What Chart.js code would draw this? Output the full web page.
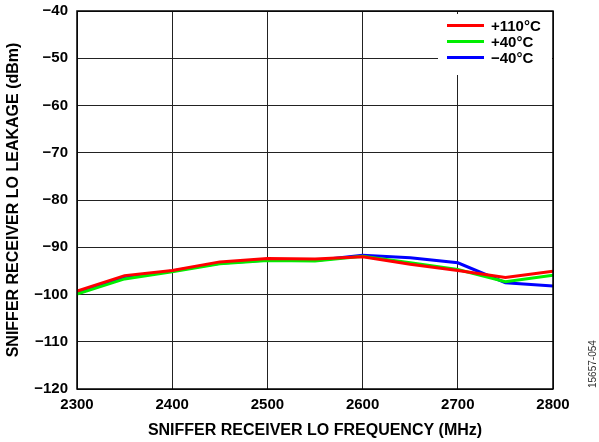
<!DOCTYPE html>
<html>
<head>
<meta charset="utf-8">
<script src="https://cdn.jsdelivr.net/npm/chart.js@4/dist/chart.umd.min.js"></script>
<style>
  html, body { margin:0; padding:0; background:#fff; }
  #wrap { width:599px; height:442px; position:relative; }
</style>
</head>
<body>
<div id="wrap"><canvas id="chart" width="599" height="442"></canvas></div>
<script>
// frequências (MHz)
const freqs = [2300, 2350, 2400, 2450, 2500, 2550, 2600, 2650, 2700, 2750, 2800];
// vazamento LO (dBm) por temperatura
const leak110 = [-99.3, -96.0, -94.9, -93.1, -92.4, -92.5, -92.0, -93.6, -94.9, -96.4, -95.1];
const leak40  = [-99.9, -96.7, -95.2, -93.5, -92.8, -92.9, -91.9, -93.3, -94.7, -97.3, -95.9];
const leakM40 = [-99.6, -96.5, -95.0, -93.4, -92.7, -92.8, -91.7, -92.2, -93.3, -97.5, -98.2];
const seriesLabels = ['+110°C', '+40°C', '\u221240°C'];
const seriesColors = ['#ff0000', '#00ee00', '#0000ff'];
const yTicks = [-40, -50, -60, -70, -80, -90, -100, -110, -120];
const xTicks = [2300, 2400, 2500, 2600, 2700, 2800];

const FONT = 'Arial, "Liberation Sans", sans-serif';
const FS = 15;
const minus = v => String(v).replace('-', '\u2212');

function pts(arr) { return freqs.map((f, i) => ({ x: f, y: arr[i] })); }

// legenda desenhada à mão dentro da área do gráfico
const legendBox = {
  id: 'legendBox',
  afterDatasetsDraw(chart) {
    const c = chart.ctx;
    c.save();
    c.fillStyle = '#fff';
    c.fillRect(438, 14, 114, 61);
    c.font = 'bold ' + FS + 'px ' + FONT;
    c.textBaseline = 'middle';
    seriesLabels.forEach((lab, i) => {
      const y = 25.5 + i * 16;
      c.strokeStyle = seriesColors[i];
      c.lineWidth = 3;
      c.beginPath(); c.moveTo(447, y); c.lineTo(484, y); c.stroke();
      c.fillStyle = '#000';
      c.fillText(lab, 491, y + 1);
    });
    c.restore();
  },
  afterDraw(chart) {
    const c = chart.ctx;
    const a = chart.chartArea;
    c.save();
    c.strokeStyle = '#000';
    c.lineWidth = 1.5;
    c.strokeRect(a.left, a.top, a.right - a.left, a.bottom - a.top);
    // código da figura
    c.translate(593, 388);
    c.rotate(-Math.PI / 2);
    c.font = '10px ' + FONT;
    c.fillStyle = '#333';
    c.textAlign = 'left';
    c.textBaseline = 'middle';
    c.fillText('15657-054', 0, 0);
    c.restore();
  }
};

new Chart(document.getElementById('chart').getContext('2d'), {
  type: 'line',
  data: {
    datasets: [
      { label: seriesLabels[0], data: pts(leak110), borderColor: seriesColors[0], borderWidth: 3, pointRadius: 0, tension: 0 },
      { label: seriesLabels[1], data: pts(leak40),  borderColor: seriesColors[1], borderWidth: 3, pointRadius: 0, tension: 0 },
      { label: seriesLabels[2], data: pts(leakM40), borderColor: seriesColors[2], borderWidth: 3, pointRadius: 0, tension: 0 }
    ]
  },
  options: {
    responsive: false,
    animation: false,
    layout: { padding: { top: 11, right: 46, left: 0, bottom: 0 } },
    plugins: { legend: { display: false }, tooltip: { enabled: false } },
    scales: {
      x: {
        type: 'linear', min: 2300, max: 2800,
        afterBuildTicks: ax => { ax.ticks = xTicks.map(v => ({ value: v })); },
        afterFit: ax => { ax.height = 53; ax.paddingLeft = 0; ax.paddingRight = 0; },
        grid: { color: '#222', lineWidth: 1, drawTicks: false },
        border: { display: false },
        ticks: { color: '#000', padding: 7, font: { family: FONT, size: FS, weight: 'bold' }, maxRotation: 0, callback: v => String(v) },
        title: { display: true, text: 'SNIFFER RECEIVER LO FREQUENCY (MHz)', color: '#000', padding: { top: 0, bottom: 2 },
                 font: { family: FONT, size: 16, weight: 'bold' } }
      },
      y: {
        min: -120, max: -40,
        afterBuildTicks: ax => { ax.ticks = yTicks.map(v => ({ value: v })); },
        afterFit: ax => { ax.width = 77; ax.paddingTop = 0; ax.paddingBottom = 0; },
        grid: { color: '#222', lineWidth: 1, drawTicks: false },
        border: { display: false },
        ticks: { color: '#000', padding: 9, font: { family: FONT, size: FS, weight: 'bold' }, callback: v => minus(v) },
        title: { display: true, text: 'SNIFFER RECEIVER LO LEAKAGE (dBm)', color: '#000', padding: { top: 4, bottom: 0 },
                 font: { family: FONT, size: 16, weight: 'bold' } }
      }
    }
  },
  plugins: [legendBox]
});
</script>
</body>
</html>
